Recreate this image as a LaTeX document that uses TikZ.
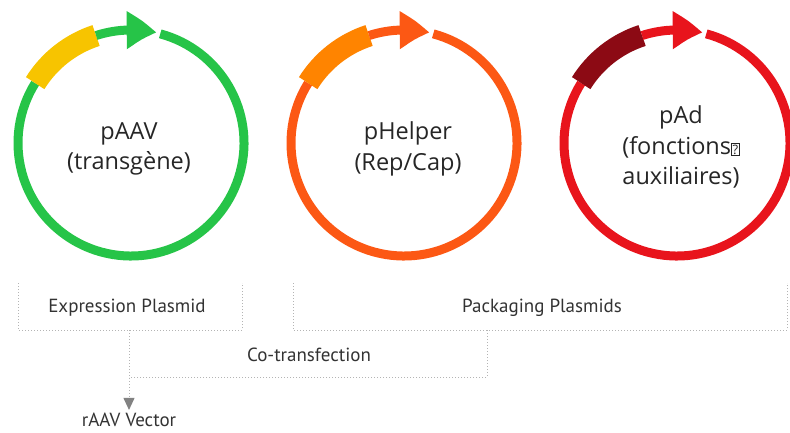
\documentclass[tikz,border=0pt]{standalone}
\usepackage{fontspec}
\setmainfont{Open Sans}
\newfontfamily\capfont{PT Sans}
\usetikzlibrary{arrows.meta, bending, positioning}

\definecolor{ringG}{RGB}{38,196,72}
\definecolor{boxG}{RGB}{247,196,0}
\definecolor{ringO}{RGB}{252,88,20}
\definecolor{boxO}{RGB}{255,132,0}
\definecolor{ringR}{RGB}{232,20,28}
\definecolor{boxR}{RGB}{140,10,20}
\definecolor{dotgray}{RGB}{180,180,180}
\definecolor{tipgray}{RGB}{130,130,130}

\newcommand{\nochar}{{\setlength{\fboxsep}{0.8pt}\setlength{\fboxrule}{0.7pt}\fbox{\fontsize{13}{13}\selectfont ?}}}

\begin{document}
\begin{tikzpicture}[x=1pt, y=1pt,
    ring/.style={line width=9pt},
    gene/.style={line width=22pt},
    shaft/.style={line width=9pt, -{Triangle[length=30pt, width=36pt, bend]}},
    plname/.style={font=\fontsize{23.5}{30.5}\selectfont, text=black!85, align=center},
    steplbl/.style={font=\capfont\fontsize{19}{21}\selectfont, text=black!80},
    dots/.style={draw=dotgray, line width=1pt, dash pattern=on 1pt off 2pt},
]
    \useasboundingbox (0,0) rectangle (790,432);

    % plasmids
    \draw[ring, ringG] (131,289) ++(75:113) arc[start angle=75, end angle=-212, radius=113];
    \draw[gene, boxG] (131,289) ++(148:113) arc[start angle=148, end angle=108, radius=113];
    \draw[shaft, ringG] (131,289) ++(108:113) arc[start angle=108, end angle=77, radius=113];
    \node[plname] (paav) at (129,283) {pAAV\\(transgène)};

    \draw[ring, ringO] (404,289) ++(75:113) arc[start angle=75, end angle=-212, radius=113];
    \draw[gene, boxO] (404,289) ++(148:113) arc[start angle=148, end angle=108, radius=113];
    \draw[shaft, ringO] (404,289) ++(108:113) arc[start angle=108, end angle=77, radius=113];
    \node[plname] (phelper) at (408,283) {pHelper\\(Rep/Cap)};

    \draw[ring, ringR] (677,289) ++(75:113) arc[start angle=75, end angle=-212, radius=113];
    \draw[gene, boxR] (677,289) ++(148:113) arc[start angle=148, end angle=108, radius=113];
    \draw[shaft, ringR] (677,289) ++(108:113) arc[start angle=108, end angle=77, radius=113];
    \node[plname] (pad) at (681,285) {pAd\\ (fonctions\nochar\\auxiliaires)};

    % brackets
    \coordinate (e1) at (18,149);
    \coordinate (e2) at (18,102);
    \coordinate (e3) at (242,102);
    \coordinate (e4) at (242,149);
    \coordinate (p1) at (293,149);
    \coordinate (p2) at (293,102);
    \coordinate (p3) at (787,102);
    \coordinate (p4) at (787,149);
    \coordinate (split) at (129,102);
    \coordinate (join) at (487,102);
    \coordinate (joindown) at (487,55);
    \coordinate (splitdown) at (129,55);

    \node[steplbl] (expr) at (127,124) {Expression Plasmid};
    \node[steplbl] (pack) at (542,124) {Packaging Plasmids};
    \node[steplbl] (cotr) at (309,77) {Co-transfection};
    \node[steplbl, inner sep=1pt] (vec) at (129,12) {rAAV Vector};

    \draw[dots] (e1) -- (e2) -- (e3) -- (e4);
    \draw[dots] (p1) -- (p2) -- (p3) -- (p4);
    \draw[dots] (join) -- (joindown) -- (splitdown);
    \draw[dots, -{Triangle[length=12pt, width=11pt, color=tipgray]}] (split) -- ([yshift=2pt]vec.north);
\end{tikzpicture}
\end{document}
